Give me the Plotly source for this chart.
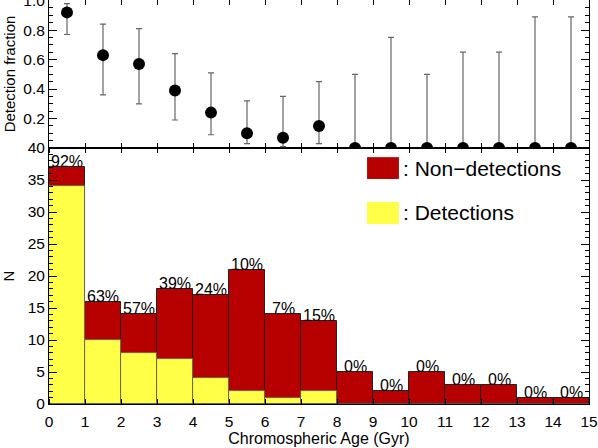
import plotly.graph_objects as go

# ---- data ----
bin_centers = [0.5, 1.5, 2.5, 3.5, 4.5, 5.5, 6.5, 7.5, 8.5, 9.5, 10.5, 11.5, 12.5, 13.5, 14.5]
total_counts = [37, 16, 14, 18, 17, 21, 14, 13, 5, 2, 5, 3, 3, 1, 1]
detections = [34, 10, 8, 7, 4, 2, 1, 2, 0, 0, 0, 0, 0, 0, 0]
det_fraction = [0.92, 0.63, 0.57, 0.39, 0.24, 0.10, 0.07, 0.15, 0, 0, 0, 0, 0, 0, 0]
err_upper = [0.98, 0.84, 0.81, 0.64, 0.51, 0.32, 0.35, 0.45, 0.50, 0.75, 0.50, 0.65, 0.65, 0.89, 0.89]
err_lower = [0.77, 0.36, 0.30, 0.19, 0.09, 0.03, 0.01, 0.03, 0, 0, 0, 0, 0, 0, 0]
pct_labels = ["92%", "63%", "57%", "39%", "24%", "10%", "7%", "15%",
              "0%", "0%", "0%", "0%", "0%", "0%", "0%"]
x_ticks = list(range(0, 16))
n_ticks = [0, 5, 10, 15, 20, 25, 30, 35, 40]
frac_ticks = [0.2, 0.4, 0.6, 0.8, 1.0]

RED = "#b70000"
YEL = "#ffff48"
FONT = "Liberation Sans, Arial, Helvetica, sans-serif"

err_plus = [u - f for u, f in zip(err_upper, det_fraction)]
err_minus = [f - l for f, l in zip(det_fraction, err_lower)]

fig = go.Figure()

# bottom histogram
fig.add_trace(go.Bar(x=bin_centers, y=total_counts, width=1,
                     marker=dict(color=RED, line=dict(color="#222", width=1)),
                     xaxis="x", yaxis="y", showlegend=False))
fig.add_trace(go.Bar(x=bin_centers, y=detections, width=1,
                     marker=dict(color=YEL, line=dict(color="#555", width=0.8)),
                     xaxis="x", yaxis="y", showlegend=False))

# top detection fraction
fig.add_trace(go.Scatter(x=bin_centers, y=det_fraction, mode="markers",
                         marker=dict(color="black", size=12),
                         error_y=dict(type="data", symmetric=False, array=err_plus, arrayminus=err_minus,
                                      color="#666", thickness=1.2, width=3),
                         xaxis="x2", yaxis="y2", showlegend=False, cliponaxis=True))

for xc, tot, lab in zip(bin_centers, total_counts, pct_labels):
    fig.add_annotation(x=xc, y=tot, xref="x", yref="y", text=lab, showarrow=False,
                       yanchor="bottom", yshift=-5, font=dict(size=16, color="black", family=FONT))

split = 1 - 148 / 404

axis_common = dict(showline=True, linecolor="black", linewidth=1, mirror="ticks",
                   showgrid=False, zeroline=False, automargin=False,
                   tickfont=dict(size=15.5, family=FONT, color="black"))

fig.update_layout(
    width=598, height=448,
    margin=dict(l=49, r=9, t=0, b=44, autoexpand=False),
    paper_bgcolor="white", plot_bgcolor="white",
    barmode="overlay", bargap=0,
    font=dict(family=FONT, color="black"),
    xaxis=dict(domain=[0, 1], range=[0, 15], anchor="y", tickvals=x_ticks,
               ticks="outside", ticklen=3, tickcolor="rgba(0,0,0,0)",
               minor=dict(tickvals=x_ticks, ticks="inside", ticklen=5, tickcolor="black"),
               title=dict(text="Chromospheric Age (Gyr)", font=dict(size=16), standoff=0), **axis_common),
    yaxis=dict(domain=[0, split], range=[0, 40], anchor="x", tickvals=n_ticks,
               ticks="inside", ticklen=8, tickcolor="black",
               minor=dict(dtick=1, ticklen=4, ticks="inside", tickcolor="black"),
               title=dict(text="N", font=dict(size=15), standoff=14), **axis_common),
    xaxis2=dict(domain=[0, 1], range=[0, 15], anchor="y2", tickvals=x_ticks,
                ticks="inside", ticklen=5, tickcolor="black",
                showticklabels=False, **axis_common),
    yaxis2=dict(domain=[split, 1], range=[0, 1.004], anchor="x2", tickvals=frac_ticks,
                ticks="inside", ticklen=8, tickcolor="black", ticklabeloverflow="allow",
                ticktext=["0.2", "0.4", "0.6", "0.8", "1.0"],
                minor=dict(dtick=0.05, ticklen=4, ticks="inside", tickcolor="black"),
                title=dict(text="Detection fraction", font=dict(size=15), standoff=4), **axis_common),
)

# legend boxes
fig.add_shape(type="rect", xref="paper", yref="paper", x0=0.589, x1=0.648, y0=0.557, y1=0.611,
              fillcolor=RED, line=dict(width=0))
fig.add_shape(type="rect", xref="paper", yref="paper", x0=0.589, x1=0.648, y0=0.4455, y1=0.50,
              fillcolor=YEL, line=dict(width=0))
fig.add_annotation(xref="paper", yref="paper", x=0.652, y=0.584, text=": Non\u2212detections",
                   showarrow=False, xanchor="left", yanchor="middle", font=dict(size=21, family=FONT))
fig.add_annotation(xref="paper", yref="paper", x=0.652, y=0.473, text=": Detections",
                   showarrow=False, xanchor="left", yanchor="middle", font=dict(size=21, family=FONT))

fig.write_html("out.html", config={"displayModeBar": False},
               post_script="document.body.style.margin='0';")
